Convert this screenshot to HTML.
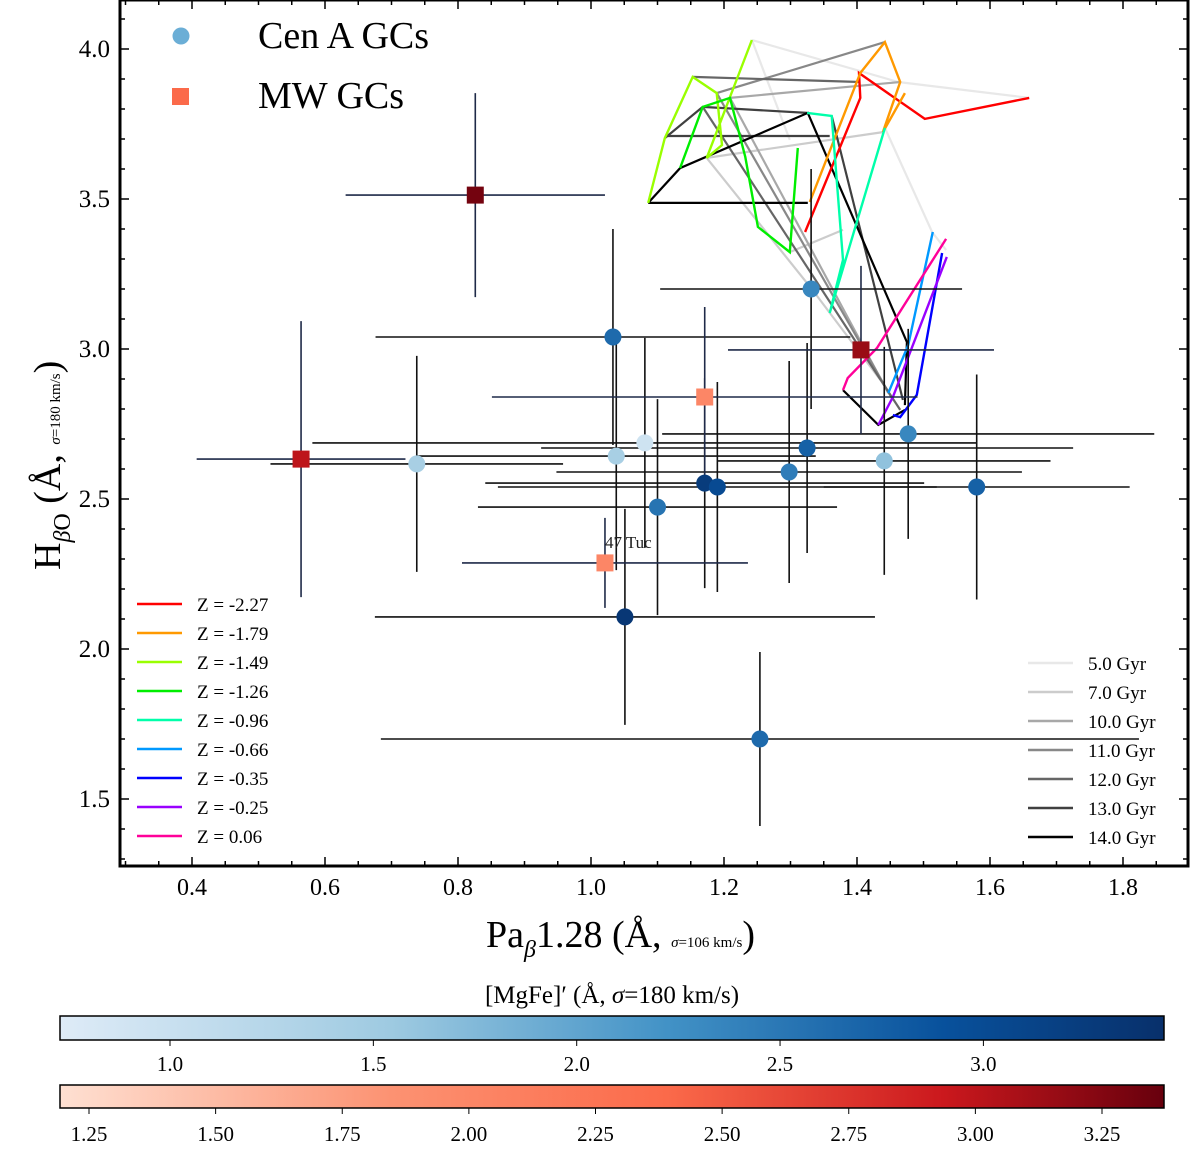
<!DOCTYPE html>
<html><head><meta charset="utf-8"><style>
body{margin:0;background:#fff;}
svg{display:block;font-family:"Liberation Serif",serif;}
</style></head><body>
<svg id="c" width="1200" height="1155" xmlns="http://www.w3.org/2000/svg">
<defs>
<linearGradient id="gB" x1="0" x2="1" y1="0" y2="0"><stop offset="0" stop-color="#deebf7"/><stop offset="0.3" stop-color="#9ecae1"/><stop offset="0.55" stop-color="#4292c6"/><stop offset="0.8" stop-color="#08519c"/><stop offset="1" stop-color="#08306b"/></linearGradient>
<linearGradient id="gR" x1="0" x2="1" y1="0" y2="0"><stop offset="0" stop-color="#fee0d2"/><stop offset="0.3" stop-color="#fc9272"/><stop offset="0.55" stop-color="#fb6a4a"/><stop offset="0.8" stop-color="#cb181d"/><stop offset="1" stop-color="#67000d"/></linearGradient>
<clipPath id="clp"><rect x="120" y="0" width="1068" height="866"/></clipPath>
</defs>
<g id="grid" clip-path="url(#clp)"></g>
<g id="pts" clip-path="url(#clp)"></g>
<g id="axes"></g>
</svg>
<script>
const xTicks=[0.4,0.6,0.8,1.0,1.2,1.4,1.6,1.8];
const yTicks=[1.5,2.0,2.5,3.0,3.5,4.0];
const zLabels=["-2.27","-1.79","-1.49","-1.26","-0.96","-0.66","-0.35","-0.25","0.06"];
const zColors=["#ff0000","#ff9900","#99ff00","#00ee00","#00ffaa","#0099ff","#0000ff","#9900ff","#ff0099"];
const zTracks=[
 [[1.322,3.39],[1.405,3.837],[1.403,3.92],[1.502,3.767],[1.659,3.837]],
 [[1.329,3.49],[1.405,3.92],[1.442,4.023],[1.465,3.89],[1.439,3.723],[1.472,3.853]],
 [[1.086,3.487],[1.111,3.703],[1.153,3.907],[1.189,3.853],[1.197,3.68],[1.174,3.637],[1.209,3.84],[1.242,4.03]],
 [[1.134,3.603],[1.168,3.807],[1.209,3.837],[1.232,3.64],[1.251,3.407],[1.299,3.323],[1.311,3.67]],
 [[1.325,3.787],[1.362,3.777],[1.379,3.297],[1.359,3.12],[1.442,3.737]],
 [[1.447,2.853],[1.477,3.013],[1.514,3.39]],
 [[1.454,2.78],[1.465,2.773],[1.49,2.847],[1.528,3.32]],
 [[1.432,2.747],[1.454,2.84],[1.535,3.307]],
 [[1.379,2.863],[1.386,2.903],[1.43,3.003],[1.534,3.367]]
];
const ageLabels=["5.0 Gyr","7.0 Gyr","10.0 Gyr","11.0 Gyr","12.0 Gyr","13.0 Gyr","14.0 Gyr"];
const ageColors=["#e8e8e8","#cccccc","#a8a8a8","#888888","#666666","#404040","#000000"];
const ageTracks=[
 [0,[[1.242,4.03],[1.462,3.89],[1.659,3.837]]],
 [0,[[1.442,3.737],[1.513,3.39],[1.534,3.33]]],
 [0,[[1.242,4.03],[1.299,3.697]]],
 [1,[[1.174,3.637],[1.439,3.723]]],
 [1,[[1.174,3.637],[1.332,3.2],[1.435,2.897]]],
 [1,[[1.299,3.323],[1.379,3.397]]],
 [2,[[1.209,3.837],[1.465,3.89]]],
 [2,[[1.209,3.837],[1.447,2.853]]],
 [3,[[1.189,3.853],[1.442,4.023]]],
 [3,[[1.189,3.853],[1.454,2.83]]],
 [4,[[1.153,3.907],[1.405,3.89]]],
 [4,[[1.168,3.807],[1.465,2.797]]],
 [5,[[1.111,3.703],[1.168,3.807],[1.325,3.787]]],
 [5,[[1.114,3.71],[1.359,3.71]]],
 [5,[[1.362,3.777],[1.469,2.83]]],
 [6,[[1.086,3.487],[1.326,3.487]]],
 [6,[[1.086,3.487],[1.134,3.603],[1.326,3.787],[1.475,3.023],[1.472,2.813]]],
 [6,[[1.379,2.863],[1.432,2.747],[1.472,2.797]]]
];
const cenX=[1.331,1.033,0.738,1.038,1.081,1.1,1.171,1.19,1.298,1.325,1.441,1.477,1.58,1.051,1.254];
const cenY=[3.2,3.04,2.617,2.643,2.687,2.473,2.553,2.54,2.59,2.67,2.627,2.717,2.54,2.107,1.7];
const cenXerr=[0.227,0.357,0.22,0.3,0.5,0.27,0.33,0.33,0.35,0.4,0.25,0.37,0.23,0.376,0.57];
const cenYerr=[0.4,0.36,0.36,0.38,0.35,0.36,0.35,0.35,0.37,0.35,0.38,0.35,0.375,0.36,0.29];
const cenMg=[2.2,2.5,1.3,1.3,0.9,2.4,3.2,2.9,2.3,2.6,1.5,2.2,2.6,3.3,2.5];
const mwX=[0.826,0.564,1.406,1.171,1.021];
const mwY=[3.513,2.633,2.997,2.84,2.287];
const mwXerr=[0.195,0.157,0.2,0.32,0.215];
const mwYerr=[0.34,0.46,0.28,0.3,0.15];
const mwMg=[3.3,2.9,3.1,1.9,1.9];
const mwNames=["","","","","47 Tuc"];
const cbBTicks=[1.0,1.5,2.0,2.5,3.0];
const cbRTicks=[1.25,1.5,1.75,2.0,2.25,2.5,2.75,3.0,3.25];

const NS="http://www.w3.org/2000/svg";
const X=v=>192+(v-0.4)*665, Y=v=>49+(4-v)*300;
function mk(tag,at,par){const e=document.createElementNS(NS,tag);for(const k in at)e.setAttribute(k,at[k]);par.appendChild(e);return e;}
const grid=document.getElementById('grid'),pts=document.getElementById('pts'),axes=document.getElementById('axes');
function ptsStr(a){return a.map(p=>X(p[0]).toFixed(1)+','+Y(p[1]).toFixed(1)).join(' ');}
function lerpC(stops,t){t=Math.max(0,Math.min(1,t));const n=stops.length-1,i=Math.min(n-1,Math.floor(t*n)),f=t*n-i;
 const a=stops[i],b=stops[i+1];const h=s=>[1,3,5].map(j=>parseInt(s.substr(j,2),16));const A=h(a),B=h(b);
 return 'rgb('+A.map((v,k)=>Math.round(v+(B[k]-v)*f)).join(',')+')';}
const blues=["#deebf7","#9ecae1","#4292c6","#08519c","#08306b"],reds=["#fee0d2","#fc9272","#fb6a4a","#cb181d","#67000d"];
const bCol=v=>lerpC(blues,(v-0.73)/(3.44-0.73)), rCol=v=>lerpC(reds,(v-1.193)/(3.37-1.193));

ageTracks.forEach(t=>{const e=mk('polyline',{points:ptsStr(t[1]),fill:'none',stroke:ageColors[t[0]],'stroke-width':2.2},grid);
 
 });
zTracks.forEach((t,i)=>{const e=mk('polyline',{points:ptsStr(t),fill:'none',stroke:zColors[i],'stroke-width':2.4},grid);
 
 });

function errbar(x,y,xe,ye,col){
 const h=mk('line',{x1:X(x-xe),x2:X(x+xe),y1:Y(y),y2:Y(y),stroke:col,'stroke-width':1.6},pts);
 
 
 const v=mk('line',{x1:X(x),x2:X(x),y1:Y(y-ye),y2:Y(y+ye),stroke:col,'stroke-width':1.6},pts);
 
 }
cenX.forEach((x,i)=>errbar(x,cenY[i],cenXerr[i],cenYerr[i],'#111'));
mwX.forEach((x,i)=>errbar(x,mwY[i],mwXerr[i],mwYerr[i],'#1f2a48'));
cenX.forEach((x,i)=>{const c=mk('circle',{cx:X(x),cy:Y(cenY[i]),r:8.5,fill:bCol(cenMg[i])},pts);
 
 });
mwX.forEach((x,i)=>{const r=mk('rect',{x:X(x)-8.5,y:Y(mwY[i])-8.5,width:17,height:17,fill:rCol(mwMg[i])},pts);
 
 
 if(mwNames[i]){const t=mk('text',{x:X(x),y:Y(mwY[i])-15,'font-size':17,fill:'#222'},pts);t.textContent=mwNames[i];
  
  }});

const fr=mk('rect',{x:120,y:0,width:1068,height:866,fill:'none',stroke:'#000','stroke-width':3},axes);


for(let v=0.3;v<=1.9;v+=0.05){const px=X(v);if(px<121||px>1187)continue;const major=xTicks.some(t=>Math.abs(t-v)<1e-6);
 const L=major?9:5;mk('line',{x1:px,x2:px,y1:866,y2:866-L,stroke:'#000','stroke-width':1.5},axes);mk('line',{x1:px,x2:px,y1:0,y2:L,stroke:'#000','stroke-width':1.5},axes);}
for(let v=1.3;v<=4.15;v+=0.1){const py=Y(v);if(py<1||py>865)continue;const major=yTicks.some(t=>Math.abs(t-v)<1e-6);
 const L=major?9:5;mk('line',{x1:120,x2:120+L,y1:py,y2:py,stroke:'#000','stroke-width':1.5},axes);mk('line',{x1:1188,x2:1188-L,y1:py,y2:py,stroke:'#000','stroke-width':1.5},axes);}
xTicks.forEach(v=>{const t=mk('text',{x:X(v),y:895,'font-size':24,'text-anchor':'middle'},axes);t.textContent=v.toFixed(1);
 
 });
yTicks.forEach(v=>{const t=mk('text',{x:110,y:Y(v)+8,'font-size':25,'text-anchor':'end'},axes);t.textContent=v.toFixed(1);
 
 });

zLabels.forEach((z,i)=>{const y=604+i*29;mk('line',{x1:137,x2:182,y1:y,y2:y,stroke:zColors[i],'stroke-width':2.5},axes);
 const t=mk('text',{x:197,y:y+7,'font-size':19},axes);t.textContent='Z = '+z;
 
 });
ageLabels.forEach((a,i)=>{const y=663+i*29;mk('line',{x1:1028,x2:1073,y1:y,y2:y,stroke:ageColors[i],'stroke-width':2.5},axes);
 const t=mk('text',{x:1088,y:y+7,'font-size':19},axes);t.textContent=a;
 
 });
</script>
<script>
(function(){
const NS="http://www.w3.org/2000/svg",s=document.getElementById('c');
function mk(tag,at,txt){const e=document.createElementNS(NS,tag);for(const k in at)e.setAttribute(k,at[k]);if(txt)e.textContent=txt;s.appendChild(e);return e;}
let e=mk('circle',{cx:181,cy:36,r:8.5,fill:'#6baed6'});


e=mk('text',{x:258,y:48,'font-size':38},'Cen A GCs');


e=mk('rect',{x:172,y:88,width:17,height:17,fill:'#fb6a4a'});


e=mk('text',{x:258,y:108,'font-size':38},'MW GCs');


e=mk('text',{x:486,y:947,'font-size':38},'');
e.innerHTML='Pa<tspan font-size="24" font-style="italic" dy="10">β</tspan><tspan dy="-10">1.28 (Å, </tspan><tspan font-size="15" font-style="italic">σ</tspan><tspan font-size="15">=106 km/s</tspan>)';


e=mk('text',{x:0,y:0,'font-size':38,transform:'translate(60,570) rotate(-90)'},'');
e.innerHTML='H<tspan font-size="24" font-style="italic" dy="10">β</tspan><tspan font-size="24" dy="0">O</tspan><tspan dy="-10"> (Å, </tspan><tspan font-size="15" font-style="italic">σ</tspan><tspan font-size="15">=180 km/s</tspan>)';


e=mk('text',{x:612,y:1003,'font-size':25,'text-anchor':'middle'},'');
e.innerHTML='[MgFe]′ (Å, <tspan font-style="italic">σ</tspan>=180 km/s)';


e=mk('rect',{x:60,y:1016,width:1104,height:24,fill:'url(#gB)',stroke:'#000','stroke-width':1.5});


e=mk('rect',{x:60,y:1085,width:1104,height:23,fill:'url(#gR)',stroke:'#000','stroke-width':1.5});


cbBTicks.forEach(v=>{const x=170+(v-1)*406.7;mk('line',{x1:x,x2:x,y1:1040,y2:1046,stroke:'#000'});
 const t=mk('text',{x:x,y:1071,'font-size':21,'text-anchor':'middle'},v.toFixed(1));
 
 });
cbRTicks.forEach(v=>{const x=89+(v-1.25)*506.5;mk('line',{x1:x,x2:x,y1:1108,y2:1114,stroke:'#000'});
 const t=mk('text',{x:x,y:1141,'font-size':21,'text-anchor':'middle'},v.toFixed(2));
 
 });
})();
</script>
</body></html>
